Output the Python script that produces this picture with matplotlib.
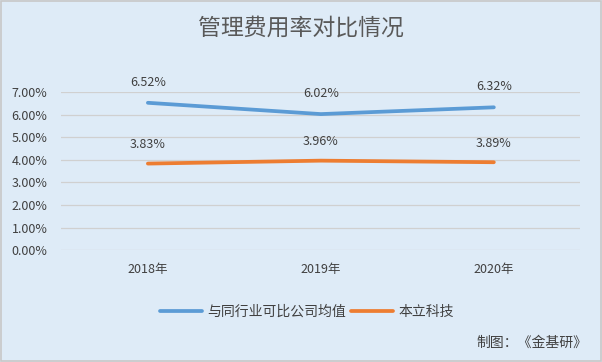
import matplotlib
matplotlib.use("Agg")
import matplotlib.pyplot as plt
from matplotlib.patches import Rectangle

plt.rcParams['font.family'] = ['Noto Sans CJK SC', 'DejaVu Sans']

years = ["2018年", "2019年", "2020年"]
industry = [6.52, 6.02, 6.32]
company = [3.83, 3.96, 3.89]
yticks = [0, 1, 2, 3, 4, 5, 6, 7]

bg = "#DEEBF7"
fig = plt.figure(figsize=(6.02, 3.62), dpi=100, facecolor=bg)
fig.patches.append(Rectangle((0.002, 0.003), 0.996, 0.994, transform=fig.transFigure,
                             fill=False, edgecolor="#C8C8C8", lw=1.2))
ax = fig.add_axes([0.102, 0.309, 0.862, 0.437])
ax.set_facecolor(bg)
x = list(range(len(years)))
ax.plot(x, industry, color="#5B9BD5", lw=2.7, solid_capstyle="round", label="与同行业可比公司均值")
ax.plot(x, company, color="#ED7D31", lw=2.7, solid_capstyle="round", label="本立科技")
for xi, v in zip(x, industry):
    ax.annotate(f"{v:.2f}%", (xi, v), xytext=(0, 10), textcoords="offset points",
                ha="center", va="bottom", fontsize=9, color="#404040", annotation_clip=False)
for xi, v in zip(x, company):
    ax.annotate(f"{v:.2f}%", (xi, v), xytext=(0, 9), textcoords="offset points",
                ha="center", va="bottom", fontsize=9, color="#404040", annotation_clip=False)
ax.set_xlim(-0.5, 2.5)
ax.set_ylim(0, 7)
ax.set_yticks(yticks)
ax.set_yticklabels([f"{t:.2f}%" for t in yticks])
ax.set_xticks(x)
ax.set_xticklabels(years)
ax.yaxis.grid(True, color="#D0D0D0", lw=0.9)
ax.set_axisbelow(True)
for s in ax.spines.values():
    s.set_visible(False)
ax.tick_params(length=0, labelsize=9, colors="#404040")
ax.tick_params(axis="x", pad=9)
ax.tick_params(axis="y", pad=10)

fig.text(0.5, 0.922, "管理费用率对比情况", ha="center", va="center", fontsize=16.5, color="#595959")
fig.legend(loc="center", bbox_to_anchor=(0.51, 0.138), ncol=2, frameon=False, fontsize=10,
           handlelength=3.0, handletextpad=0.4, columnspacing=0.4, labelcolor="#404040")
fig.text(0.975, 0.052, "制图：《金基研》", ha="right", va="center", fontsize=10, color="#404040")
fig.savefig("out.png", dpi=100, facecolor=bg)
